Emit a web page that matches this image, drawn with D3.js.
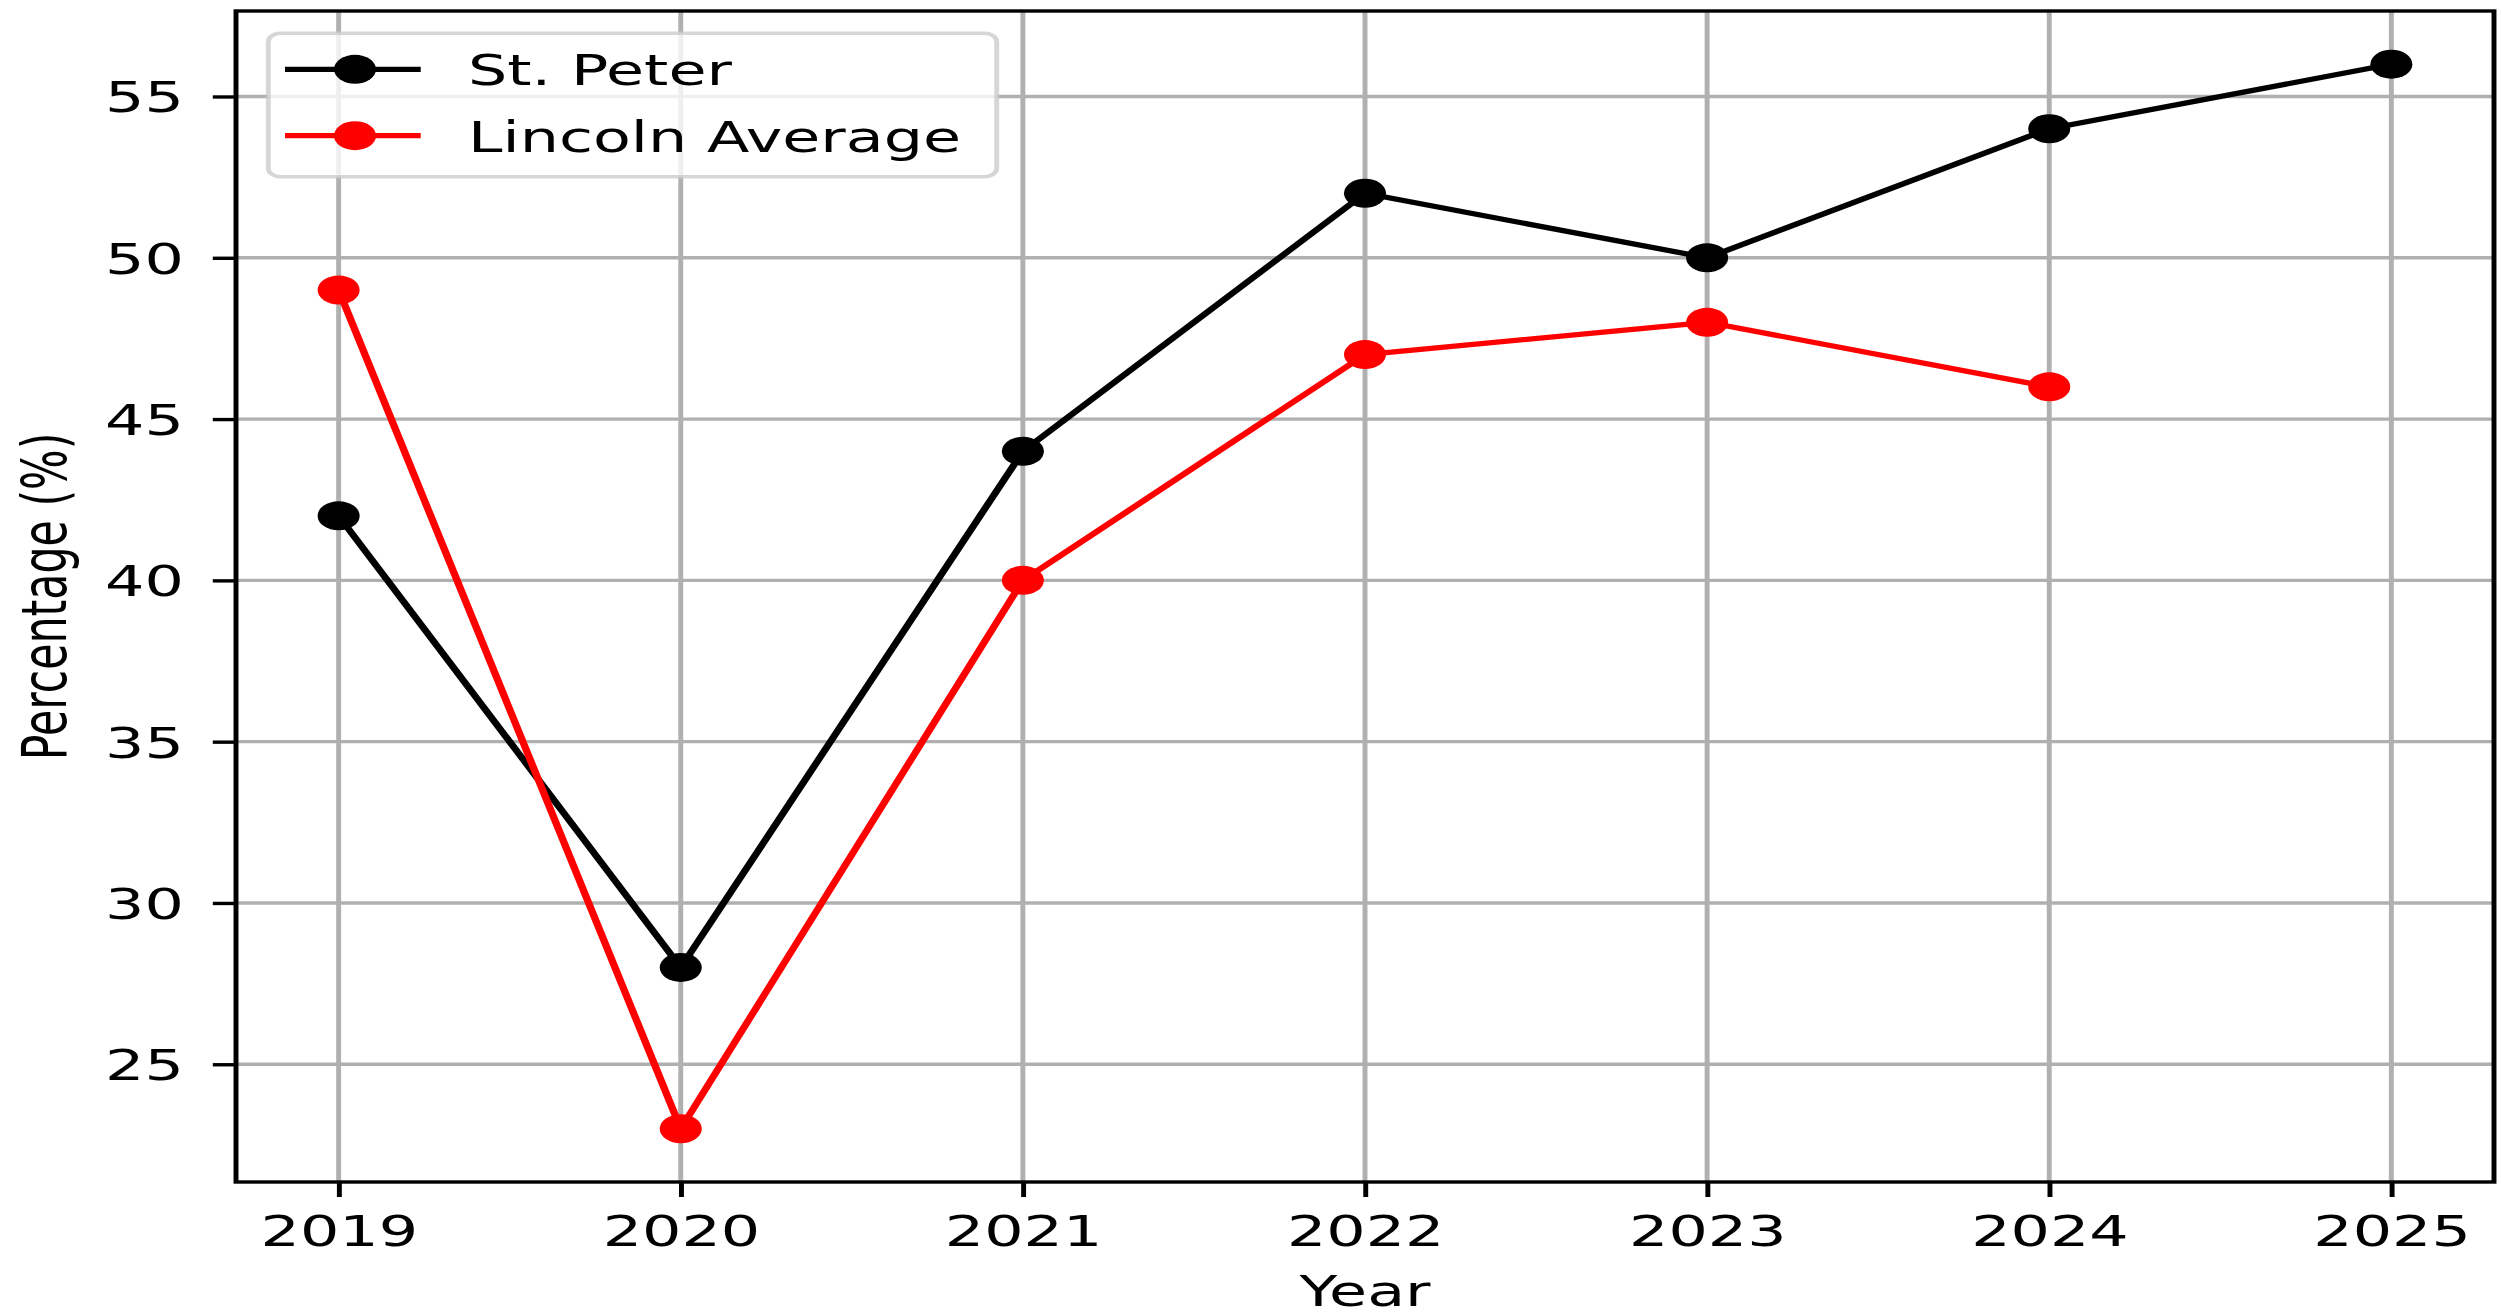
<!DOCTYPE html>
<meta charset="utf-8">
<head>
	<title>St. Peter vs Lincoln Average</title>
	<script type="text/javascript" src="https://d3js.org/d3.v7.min.js"></script>
	<style>
		body { margin: 0; background: #fff; }
		svg { display: block; }
		text { font-family: "DejaVu Sans", sans-serif; fill: #000; }
		.grid line { stroke: #b0b0b0; stroke-width: 3.4; }
	</style>
</head>
<body>
	<div id="chart"></div>
	<script>

		// chart data
		var years = [2019, 2020, 2021, 2022, 2023, 2024, 2025];
		var stPeter = [42, 28, 44, 52, 50, 54, 56];
		var lincolnYears = [2019, 2020, 2021, 2022, 2023, 2024];
		var lincolnAvg = [49, 23, 40, 47, 48, 46];
		var yTicks = [25, 30, 35, 40, 45, 50, 55];
		var seriesNames = ["St. Peter", "Lincoln Average"];
		var seriesColors = ["#000000", "#ff0000"];

		// the reference is stretched sideways, so draw in narrower units and let the svg stretch
		var W = 2501, H = 1313, sx = 1.45;
		var W0 = W / sx;
		var fs = 42.7;

		var svg = d3.select("#chart").append("svg")
			.attr("width", W)
			.attr("height", H)
			.attr("viewBox", "0 0 " + W0 + " " + H)
			.attr("preserveAspectRatio", "none");

		// plot box (window.top is taken, so use a margin object)
		var plot = {left: 236 / sx, right: 2494 / sx, top: 11, bottom: 1182};

		var x = d3.scaleLinear().domain([2018.7, 2025.3]).range([plot.left, plot.right]);
		var y = d3.scaleLinear().domain([21.35, 57.65]).range([plot.bottom, plot.top]);

		// gridlines
		var grid = svg.append("g").attr("class", "grid");
		grid.selectAll(".gx").data(years).enter().append("line")
			.attr("x1", d => x(d)).attr("x2", d => x(d))
			.attr("y1", plot.top).attr("y2", plot.bottom);
		grid.selectAll(".gy").data(yTicks).enter().append("line")
			.attr("x1", plot.left).attr("x2", plot.right)
			.attr("y1", d => y(d)).attr("y2", d => y(d));

		// lines + markers
		var series = [
			{name: seriesNames[0], color: seriesColors[0], pts: years.map((d, i) => [d, stPeter[i]])},
			{name: seriesNames[1], color: seriesColors[1], pts: lincolnYears.map((d, i) => [d, lincolnAvg[i]])}
		];
		var line = d3.line().x(d => x(d[0])).y(d => y(d[1]));

		series.forEach(function(s) {
			var g = svg.append("g");
			g.append("path")
				.attr("d", line(s.pts))
				.attr("fill", "none")
				.attr("stroke", s.color)
				.attr("stroke-width", 5.2)
				.attr("stroke-linejoin", "round")
				.attr("stroke-linecap", "square");
			g.selectAll("circle").data(s.pts).enter().append("circle")
				.attr("cx", d => x(d[0]))
				.attr("cy", d => y(d[1]))
				.attr("r", 14.5)
				.attr("fill", s.color);
		});

		// axes
		var xAxis = svg.append("g")
			.attr("transform", "translate(0," + plot.bottom + ")")
			.call(d3.axisBottom(x).tickValues(years).tickFormat(d3.format("d")).tickSize(15).tickPadding(19));
		var yAxis = svg.append("g")
			.attr("transform", "translate(" + plot.left + ",0)")
			.call(d3.axisLeft(y).tickValues(yTicks).tickSize(16).tickPadding(20));

		[xAxis, yAxis].forEach(function(a) {
			a.select(".domain").remove();
			a.selectAll(".tick line").attr("stroke", "#000").attr("stroke-width", 3.4);
			a.selectAll(".tick text").attr("font-size", fs).attr("font-family", "DejaVu Sans").attr("fill", "#000");
		});
		yAxis.selectAll(".tick text").attr("dy", "0.36em");

		// spines
		svg.append("rect")
			.attr("x", plot.left).attr("y", plot.top)
			.attr("width", plot.right - plot.left).attr("height", plot.bottom - plot.top)
			.attr("fill", "none").attr("stroke", "#000").attr("stroke-width", 3.4);

		// axis labels
		svg.append("text")
			.attr("x", (plot.left + plot.right) / 2).attr("y", 1306)
			.attr("text-anchor", "middle").attr("font-size", fs)
			.text("Year");
		svg.append("text")
			.attr("transform", "translate(" + (65.7 / sx) + "," + ((plot.top + plot.bottom) / 2) + ") rotate(-90)")
			.attr("text-anchor", "middle").attr("font-size", fs)
			.text("Percentage (%)");

		// legend
		var lg = svg.append("g");
		lg.append("rect")
			.attr("x", 268.3 / sx).attr("y", 33.3)
			.attr("width", (996.7 - 268.3) / sx).attr("height", 176.7 - 33.3)
			.attr("rx", 8.5).attr("ry", 8.5)
			.attr("fill", "#fff").attr("fill-opacity", 0.8)
			.attr("stroke", "#cccccc").attr("stroke-opacity", 0.8).attr("stroke-width", 3.4);
		var rowsY = [69.3, 135.7];
		series.forEach(function(s, i) {
			lg.append("line")
				.attr("x1", 285 / sx).attr("x2", 420.7 / sx)
				.attr("y1", rowsY[i]).attr("y2", rowsY[i])
				.attr("stroke", s.color).attr("stroke-width", 5.2);
			lg.append("circle")
				.attr("cx", 355 / sx).attr("cy", rowsY[i]).attr("r", 14.5)
				.attr("fill", s.color);
			lg.append("text")
				.attr("x", 468 / sx).attr("y", rowsY[i] + 16)
				.attr("font-size", fs)
				.text(s.name);
		});
	</script>
</body>
</html>
